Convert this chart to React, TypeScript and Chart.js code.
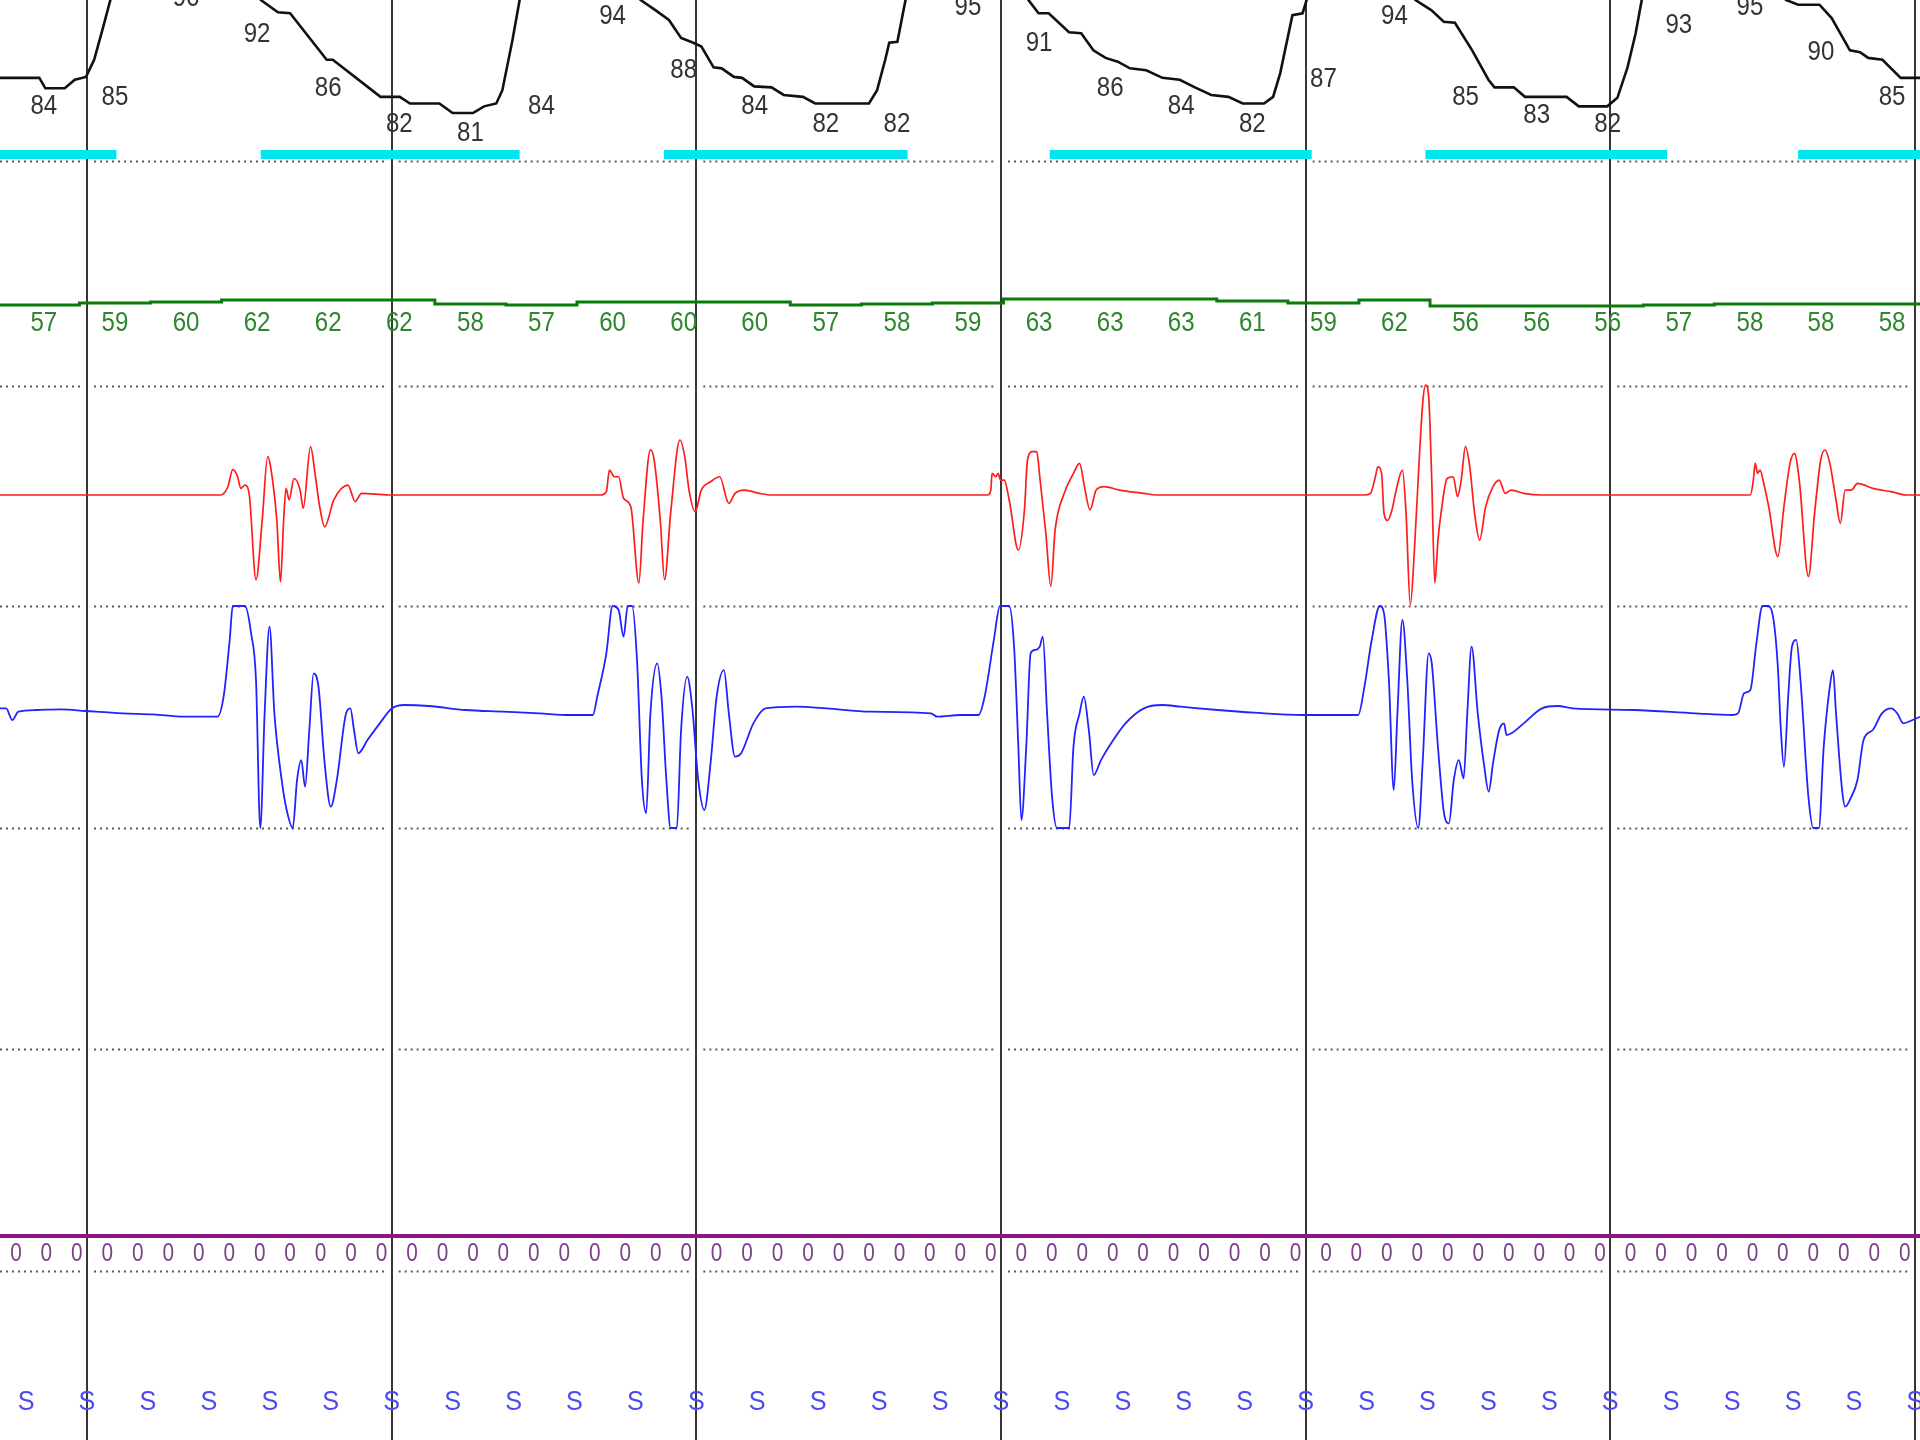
import React, { useEffect, useRef } from "react";
import { Chart, registerables } from "chart.js";

Chart.register(...registerables);

// ---- time axis (seconds) ----
const X_MIN = -8.57;
const X_MAX = 180.5;
const EPOCH_MARKS = [0, 30, 60, 90, 120, 150, 180];

// ---- SpO2 trace (%) ----
const SPO2_T = [
  -8.6, -4.7, -4.1, -2.2, -1.2, -0.1, 0.7, 1.5, 2.3, 3.1, 5.2, 11.1, 15.1, 16.5, 17.1, 18.8, 20.0, 23.6, 24.2,
  28.9, 30.8, 31.8, 34.7, 36.0, 38.0, 39.1, 40.3, 40.9, 41.9, 42.6, 43.6, 46.6, 52.5, 54.0, 54.5, 56.0, 57.3,
  58.5, 59.7, 60.5, 61.7, 62.5, 63.7, 64.5, 65.7, 67.4, 68.6, 70.5, 71.7, 77.0, 77.8, 78.6, 79.0, 79.8, 80.6,
  81.6, 84.0, 89.9, 91.9, 92.7, 93.7, 94.7, 96.7, 97.9, 99.1, 100.3, 101.5, 102.7, 104.3, 105.9, 107.6, 109.1,
  110.7, 112.4, 113.8, 115.9, 116.8, 117.5, 118.7, 119.7, 120.1, 120.9, 123.4, 128.8, 130.3, 130.8, 132.4,
  133.6, 134.7, 136.4, 138.0, 138.6, 140.5, 141.6, 145.7, 146.9, 149.7, 150.7, 151.7, 152.5, 153.1, 153.9,
  156.9, 164.8, 166.8, 167.3, 168.5, 170.6, 171.8, 173.6, 174.6, 175.4, 176.8, 178.6, 180.6,
];
const SPO2_V = [
  84.7, 84.7, 83.6, 83.6, 84.5, 84.8, 86.6, 89.7, 92.9, 95.5, 97, 97, 96, 94, 92.9, 91.6, 91.5, 86.6, 86.6,
  82.7, 82.7, 82.0, 82.0, 81.0, 81.0, 81.7, 82.0, 83.4, 88.7, 92.9, 95.5, 97, 97, 94, 92.9, 91.8, 90.8,
  88.9, 88.4, 88.0, 85.8, 85.7, 84.8, 84.7, 83.8, 83.7, 82.9, 82.7, 82.0, 82.0, 83.4, 86.6, 88.4, 88.5, 92.9,
  95, 96.5, 96.5, 94.5, 92.9, 91.5, 91.5, 89.5, 89.4, 87.6, 86.8, 86.4, 85.7, 85.5, 84.7, 84.5, 83.7,
  82.9, 82.7, 82.0, 82.0, 82.7, 85.2, 91.3, 91.5, 92.9, 95, 96.5, 96.5, 94.5, 92.9, 91.8,
  90.6, 90.5, 87.6, 84.5, 83.7, 83.7, 82.7, 82.7, 81.7, 81.7, 82.6, 85.8, 89.4, 92.9, 95,
  96.5, 96.5, 94, 92.9, 92.4, 92.4, 91.0, 87.6, 87.4, 86.8, 86.6, 84.7, 84.7,
];

// ---- sampled readouts (every 7 s) ----
const READOUT_T0 = -4.25;
const READOUT_STEP = 7;
const SPO2_LABELS = [84, 85, 96, 92, 86, 82, 81, 84, 94, 88, 84, 82, 82, 95, 91, 86, 84, 82, 87, 94, 85, 83, 82, 93, 95, 90, 85];
const HR_LABELS = [57, 59, 60, 62, 62, 62, 58, 57, 60, 60, 60, 57, 58, 59, 63, 63, 63, 61, 59, 62, 56, 56, 56, 57, 58, 58, 58];

// ---- desaturation events (s) ----
const EVENT_START = [-8.6, 17.1, 56.8, 94.8, 131.8, 168.5];
const EVENT_END = [2.9, 42.6, 80.8, 120.6, 155.6, 181];

// ---- red channel (effort, arbitrary units) ----
const RED_T = [
  -8.6, 13.15, 13.87, 14.35, 14.83, 15.13, 15.56, 15.98, 16.64, 17.25, 17.79, 18.27, 18.69, 19.05, 19.36, 19.6,
  19.9, 20.38, 20.98, 21.29, 22.01, 22.49, 22.91, 23.4, 24.3, 25.69, 26.41, 27.02, 29.73,
  50.54, 51.14, 51.44, 51.93, 52.35, 52.83, 53.55, 54.34, 54.76, 55.48, 55.85, 56.45, 56.87, 57.47, 58.38,
  58.86, 59.28, 59.89, 60.49, 61.4, 62.3, 63.2, 63.81, 64.71, 66.22, 67.43,
  88.69, 89.0, 89.12, 89.48, 89.72, 89.96, 90.32, 90.81, 91.71, 92.31, 92.61, 93.1, 93.52, 93.82, 94.42,
  94.91, 95.33, 96.23, 97.14, 97.74, 98.22, 98.77, 99.37, 100.15, 101.66, 104.07, 105.28,
  125.79, 126.39, 126.87, 127.11, 127.48, 127.72, 128.08, 128.5, 128.92, 129.53, 129.89, 130.31, 130.73,
  131.22, 131.58, 131.82, 132.12, 132.42, 132.72, 133.03, 133.33, 133.93, 134.53, 134.96, 135.32, 135.74,
  136.16, 136.64, 137.13, 137.73, 138.45, 139.06, 139.66, 140.26, 141.47, 143.28,
  163.79, 164.09, 164.27, 164.51, 164.75, 165.11, 165.6, 166.5, 167.1, 167.7, 168.13, 168.61, 169.51,
  170.12, 170.72, 171.14, 171.62, 172.23, 172.65, 173.13, 173.74, 174.34, 175.85, 177.66, 179.17, 180.6,
];
const RED_V = [
  0, 0, 7.5, 23, 16.6, 6, 9, 0, -77, -23, 34.8, 13.6, -23, -79, -23, 6,
  -4.5, 15, 4.5, -12, 44, 16.6, -10.6, -29, -4.5, 9, -6, 1.5, 0,
  0, 3, 22.7, 16.6, 16.6, -3, -10.6, -80, -23, 41, 31.8, -23, -77, -16.7, 50,
  34.8, 4.5, -15, 4.5, 12, 16.6, -7.6, 1.5, 4.5, 1.5, 0,
  0, 4.5, 19.7, 16.6, 19.7, 13.6, 13.6, -4.5, -50, -13.6, 31.8, 39.4, 39.4, 16.6, -35,
  -83, -32, 1.5, 19.7, 28.8, 7.6, -13.6, 4.5, 7.6, 4.5, 1.5, 0,
  0, 1.5, 16.6, 25.7, 19.7, -16.7, -23, -13.6, 4.5, 22.7, -16.7, -100, -47,
  37.9, 89, 100, 89, 13.6, -80, -41, -16.7, 15, 16.6, -1.5, 13.6, 44,
  25.7, -16.7, -41, -10.6, 7.6, 13.6, 1.5, 4.5, 1.5, 0,
  0, 13.6, 28.8, 19.7, 22.7, 10.6, -10.6, -56, -10.6, 28.8, 37.9, 13.6, -74,
  -16.7, 31.8, 40.9, 28.8, -4.5, -25.8, 4.5, 4.5, 10.6, 6, 3, 0, 0,
];

// ---- blue channel (flow, arbitrary units, clipped at +/-100) ----
const BLUE_T = [
  -8.57, -7.97, -7.36, -6.76, -4.95, -2.54, -0.13, 3.49, 6.51, 9.52, 12.84, 13.45, 14.05, 14.35, 15.56, 16.16,
  16.64, 17.06, 17.49, 17.97, 18.45, 19.17, 19.66, 20.26, 20.68, 21.1, 21.47, 21.89, 22.31, 22.79, 23.4, 24.0,
  24.6, 25.51, 25.93, 26.29, 26.71, 27.62, 28.83, 30.03, 31.24, 33.65, 37.27, 40.89, 44.51, 47.52, 49.82,
  50.24, 51.14, 51.75, 52.35, 52.83, 53.25, 53.67, 54.16, 54.64, 55.06, 55.48, 56.15, 56.57, 57.05, 57.47,
  58.08, 58.5, 59.1, 59.59, 60.19, 60.79, 61.4, 62.0, 62.72, 63.2, 63.81, 64.41, 65.62, 66.82, 69.84, 72.85,
  77.08, 83.11, 83.71, 86.0, 87.79, 88.39, 89.3, 89.9, 90.81, 91.29, 91.71, 92.01, 92.49, 92.92, 93.34, 93.82,
  94.12, 94.54, 95.03, 95.51, 96.72, 97.14, 97.74, 98.16, 98.65, 99.13, 99.85, 101.06, 102.26, 104.07, 105.88,
  107.69, 111.31, 114.93, 119.76, 125.18, 125.79, 126.51, 127.3, 127.72, 128.2, 128.68, 129.04, 129.53,
  130.01, 130.49, 131.1, 131.52, 132.12, 132.42, 133.03, 133.63, 134.11, 134.59, 135.08, 135.56, 135.92,
  136.34, 136.95, 137.55, 138.03, 138.45, 139.06, 139.54, 139.78, 140.26, 141.47, 143.28, 144.79, 146.29,
  152.32, 158.36, 161.98, 162.58, 163.18, 163.79, 164.39, 164.99, 165.59, 166.08, 166.5, 166.8, 167.1,
  167.52, 167.89, 168.31, 168.73, 169.51, 169.99, 170.54, 171.02, 171.62, 171.93, 172.23, 172.83, 173.13,
  173.74, 174.34, 174.94, 175.85, 176.75, 177.66, 178.26, 178.86, 179.77, 180.55,
];
const BLUE_V = [
  7.8, 7.8, -2.7, 4.8, 6.3, 6.9, 5.4, 3.3, 2.4, 0.3, 0.3, 18.3, 69.4, 100, 100, 75.4,
  33.3, -100, 3.3, 81.4, 3.3, -56.8, -83.8, -100, -56.8, -38.8, -62.8, -11.7, 39.3, 27.3, -41.8, -80.8,
  -56.8, 3.3, 7.8, -11.7, -32.7, -20.7, -5.7, 7.8, 10.8, 9.9, 6.3, 4.8, 3.3, 1.8, 1.8,
  18.3, 57.4, 100, 96.4, 72.4, 100, 100, 51.4, -56.8, -86.8, 3.3, 48.4, 18.3, -56.8, -100,
  -100, -11.7, 36.3, 9.3, -56.8, -83.8, -41.8, 18.3, 42.3, 3.3, -35.7, -32.7, -5.7, 7.8, 9.3, 7.8,
  4.8, 3.3, 0.3, 1.8, 1.8, 18.3, 69.4, 100, 100, 63.4, -26.7, -92.8, -26.7, 57.4, 60.4, 63.4,
  72.4, 3.3, -71.8, -100, -100, -26.7, 3.3, 18.3, -11.7, -52.3, -38.8, -20.7, -5.7, 7.8, 10.8,
  9.3, 6.3, 3.9, 1.8, 1.8, 27.3, 69.4, 100, 93.4, 33.3, -65.8, 3.3, 87.4,
  33.3, -56.8, -100, -41.8, 57.4, 48.4, -26.7, -86.8, -95.8, -56.8, -38.8, -55.3, 3.3,
  63.4, 3.3, -41.8, -67.3, -41.8, -11.7, -5.7, -16.2, -14.7, -5.7, 7.8, 9.9, 7.8,
  6.3, 3.3, 1.8, 3.3, 21.3, 24.3, 66.4, 100, 100, 87.4, 45.4, -11.7, -44.8,
  18.3, 63.4, 69.4, 33.3, -71.8, -100, -100, -26.7, 27.3, 42.3, 3.3, -65.8, -80.8,
  -71.8, -56.8, -20.7, -11.7, 3.3, 7.8, 3.3, -5.7, -2.7, 0.3,
];

// ---- purple channel readouts (every 3 s) ----
const PURPLE_T0 = -7;
const PURPLE_STEP = 3;
const PURPLE_VALUES = [
  0, 0, 0, 0, 0, 0, 0, 0, 0, 0, 0, 0, 0, 0, 0, 0, 0, 0, 0, 0, 0, 0, 0, 0, 0, 0, 0, 0, 0, 0, 0, 0,
  0, 0, 0, 0, 0, 0, 0, 0, 0, 0, 0, 0, 0, 0, 0, 0, 0, 0, 0, 0, 0, 0, 0, 0, 0, 0, 0, 0, 0, 0, 0,
];

// ---- stage readouts (every 6 s) ----
const STAGE_T0 = -6;
const STAGE_STEP = 6;
const STAGE_LABELS = [
  "S", "S", "S", "S", "S", "S", "S", "S", "S", "S", "S", "S", "S", "S", "S", "S",
  "S", "S", "S", "S", "S", "S", "S", "S", "S", "S", "S", "S", "S", "S", "S", "S",
];

// ---- layout (pixel lanes in a 1440 high plot) ----
const H = 1440;
const W = 1920;
const SEPARATORS = [161, 386, 606, 828, 1049, 1271];
const EVENT_LANE = 154.5;
const HR_LABEL_LANE = 323;
const PURPLE_LABEL_LANE = 1254;
const STAGE_LANE = 1402;
const SEP_GAP = 7;

function band(v0: number, y0: number, ppu: number) {
  return { type: "linear" as const, display: false, min: v0 - (H - y0) / ppu, max: v0 + y0 / ppu };
}

function narrowText(ctx: CanvasRenderingContext2D, text: string, x: number, y: number, sx: number) {
  ctx.save();
  ctx.translate(x, y);
  ctx.scale(sx, 1);
  ctx.fillText(text, 0, 0);
  ctx.restore();
}

const overlay = {
  id: "overlay",
  beforeDatasetsDraw(chart: any) {
    const ctx = chart.ctx;
    const xs = chart.scales.x;
    const ly = chart.scales.yLay;
    const bounds = [X_MIN, ...EPOCH_MARKS, X_MAX];
    ctx.save();
    ctx.strokeStyle = "#5a5a5a";
    ctx.lineWidth = 2;
    ctx.setLineDash([2, 4]);
    for (const s of SEPARATORS) {
      const y = Math.round(ly.getPixelForValue(s)) + 0.5;
      for (let i = 0; i < bounds.length - 1; i++) {
        const x1 = xs.getPixelForValue(bounds[i]) + (i > 0 ? SEP_GAP : 0);
        const x2 = xs.getPixelForValue(bounds[i + 1]) - (i + 1 < bounds.length - 1 ? SEP_GAP : 0);
        if (x2 <= x1) continue;
        ctx.beginPath();
        ctx.moveTo(x1, y);
        ctx.lineTo(x2, y);
        ctx.stroke();
      }
    }
    ctx.restore();
  },
  afterDatasetsDraw(chart: any) {
    const ctx = chart.ctx;
    const xs = chart.scales.x;
    const ly = chart.scales.yLay;
    const sl = chart.scales.ySpo2Lbl;
    ctx.save();
    ctx.textAlign = "center";
    ctx.textBaseline = "middle";
    ctx.font = '28px "Liberation Sans", Arial, sans-serif';
    ctx.fillStyle = "#333333";
    SPO2_LABELS.forEach((v, i) => {
      const t = READOUT_T0 + i * READOUT_STEP;
      narrowText(ctx, String(v), xs.getPixelForValue(t), sl.getPixelForValue(v), 0.86);
    });
    ctx.fillStyle = "#2f862f";
    HR_LABELS.forEach((v, i) => {
      const t = READOUT_T0 + i * READOUT_STEP;
      narrowText(ctx, String(v), xs.getPixelForValue(t), ly.getPixelForValue(HR_LABEL_LANE), 0.86);
    });
    ctx.font = '26px "Liberation Sans", Arial, sans-serif';
    ctx.fillStyle = "#7e3f8a";
    PURPLE_VALUES.forEach((v, i) => {
      const t = PURPLE_T0 + i * PURPLE_STEP;
      narrowText(ctx, String(v), xs.getPixelForValue(t), ly.getPixelForValue(PURPLE_LABEL_LANE), 0.8);
    });
    ctx.font = '28px "Liberation Sans", Arial, sans-serif';
    ctx.fillStyle = "#4b4bf0";
    STAGE_LABELS.forEach((s, i) => {
      const t = STAGE_T0 + i * STAGE_STEP;
      narrowText(ctx, s, xs.getPixelForValue(t), ly.getPixelForValue(STAGE_LANE), 0.9);
    });
    ctx.restore();
  },
};

function pairs(ts: number[], vs: number[]) {
  return ts.map((t, i) => ({ x: t, y: vs[i] }));
}

export default function App() {
  const ref = useRef<HTMLCanvasElement>(null);
  useEffect(() => {
    if (!ref.current) return;
    const eventData: any[] = [];
    EVENT_START.forEach((s, i) => {
      eventData.push({ x: s, y: EVENT_LANE }, { x: EVENT_END[i], y: EVENT_LANE }, { x: EVENT_END[i], y: null });
    });
    const hrData = [
      { x: X_MIN, y: HR_LABELS[0] },
      ...HR_LABELS.map((v, i) => ({ x: READOUT_T0 + i * READOUT_STEP, y: v })),
      { x: X_MAX, y: HR_LABELS[HR_LABELS.length - 1] },
    ];
    const purpleData = [
      { x: X_MIN, y: PURPLE_VALUES[0] },
      ...PURPLE_VALUES.map((v, i) => ({ x: PURPLE_T0 + i * PURPLE_STEP, y: v })),
      { x: X_MAX, y: PURPLE_VALUES[PURPLE_VALUES.length - 1] },
    ];
    const common = { pointRadius: 0, tension: 0, fill: false, spanGaps: false };
    const chart = new Chart(ref.current, {
      type: "line",
      data: {
        datasets: [
          { ...common, data: eventData, yAxisID: "yLay", borderColor: "#00e6ee", borderWidth: 9, borderCapStyle: "butt" },
          { ...common, data: pairs(SPO2_T, SPO2_V), yAxisID: "ySpo2", borderColor: "#111111", borderWidth: 2.6 },
          { ...common, data: hrData, yAxisID: "yHr", borderColor: "#0a7a0a", borderWidth: 3, stepped: "middle" },
          { ...common, data: pairs(RED_T, RED_V), yAxisID: "yRed", borderColor: "#ff1c1c", borderWidth: 1.7, cubicInterpolationMode: "monotone" },
          { ...common, data: pairs(BLUE_T, BLUE_V), yAxisID: "yBlue", borderColor: "#2222ff", borderWidth: 1.8, cubicInterpolationMode: "monotone" },
          { ...common, data: purpleData, yAxisID: "yPurple", borderColor: "#8c1483", borderWidth: 4 },
        ] as any,
      },
      options: {
        responsive: false,
        animation: false,
        devicePixelRatio: 1,
        layout: { padding: 0, autoPadding: false },
        plugins: { legend: { display: false }, tooltip: { enabled: false }, title: { display: false } },
        events: [],
        scales: {
          x: {
            type: "linear",
            min: X_MIN,
            max: X_MAX,
            afterBuildTicks: (s: any) => {
              s.ticks = EPOCH_MARKS.map((v) => ({ value: v }));
            },
            ticks: { display: false },
            border: { display: false },
            grid: { color: "#363636", lineWidth: 2, drawTicks: false },
          },
          yLay: { type: "linear", display: false, min: 0, max: H, reverse: true },
          ySpo2: band(81, 113, 9.5),
          ySpo2Lbl: band(81, 133, 9),
          yHr: band(60, 302, 1),
          yRed: band(0, 495, 1.1),
          yBlue: band(0, 717, 1.11),
          yPurple: band(0, 1236, 1),
        } as any,
      },
      plugins: [overlay],
    });
    return () => chart.destroy();
  }, []);
  return (
    <div style={{ position: "absolute", left: 0, top: 0, width: W, height: H, background: "#ffffff" }}>
      <canvas ref={ref} width={W} height={H} style={{ display: "block", width: W, height: H }} />
    </div>
  );
}
